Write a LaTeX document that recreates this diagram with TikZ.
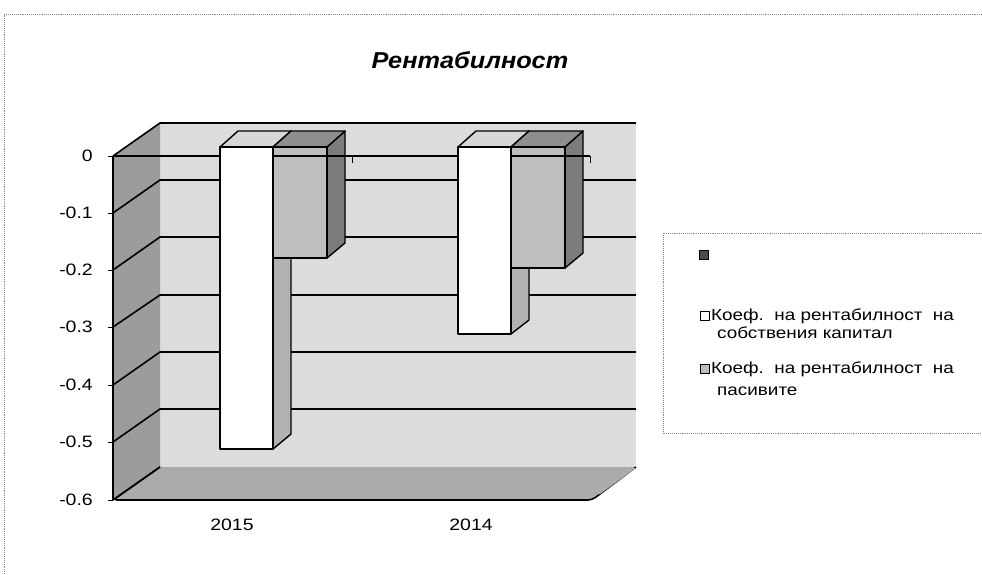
\documentclass[tikz,border=0pt]{standalone}
\usepackage{fontspec}
\setmainfont{Liberation Sans}
\definecolor{wallback}{HTML}{DCDCDC}
\definecolor{wallside}{HTML}{9C9C9C}
\definecolor{floorc}{HTML}{ABABAB}
\definecolor{wtop}{HTML}{D6D6D6}
\definecolor{wside}{HTML}{B2B2B2}
\definecolor{gfront}{HTML}{BEBEBE}
\definecolor{gtop}{HTML}{8E8E8E}
\definecolor{gside}{HTML}{7C7C7C}
\definecolor{framec}{HTML}{8A8A8A}
\tikzset{
  grid/.style={line width=1.6pt, black},
  edge/.style={draw=black, line width=1.4pt, line join=round},
  axlab/.style={font=\fontsize{16.5}{19}\selectfont, inner sep=0pt},
  leglab/.style={font=\fontsize{16}{21}\selectfont, inner sep=0pt, anchor=west, align=left},
  legsq/.style={draw=black, line width=0.9pt, minimum size=9.5pt, inner sep=0pt},
}
\newcommand{\sx}[1]{\scalebox{1.18}[1]{#1}}
\begin{document}
\begin{tikzpicture}[x=1pt,y=-1pt]
\useasboundingbox (0,0) rectangle (982,574);
% outer frame
\draw[framec, densely dotted, line width=0.9pt] (4,574) -- (4,14) -- (982,14);
% title
\node[font=\fontsize{23}{26}\selectfont\bfseries\itshape, inner sep=0pt] (title) at (470,60) {\scalebox{1.1}[1]{Рентабилност}};
% walls
\fill[wallback] (160,123) rectangle (636,467);
\fill[wallside] (113,156) -- (160,123) -- (160,467) -- (113,500) -- cycle;
\filldraw[fill=floorc, draw=black, line width=1.6pt, rounded corners=4pt]
  (160,467) -- (113,500) -- (592,500) -- (636,467);
\fill[floorc] (160,468) -- (636,468) -- (600,494) -- (130,494) -- cycle;
% gridlines
\foreach \f/\b in {156/123,213/180,270/237,327/295,385/352,442/409} {
  \draw[grid] (113,\f) -- (160,\b) -- (636,\b);
}
\draw[grid] (113,500) -- (160,467);
% value axis
\draw[black, line width=1.6pt] (113,156) -- (113,500);
\foreach \v/\y in {0/156,-0.1/213,-0.2/270,-0.3/327,-0.4/385,-0.5/442,-0.6/500} {
  \draw[black, line width=1pt] (108,\y) -- (113,\y);
}
\node[axlab, anchor=east] (l0) at (93,156) {\sx{0}};
\node[axlab, anchor=east] (l1) at (93,213) {\sx{-0.1}};
\node[axlab, anchor=east] (l2) at (93,270) {\sx{-0.2}};
\node[axlab, anchor=east] (l3) at (93,327) {\sx{-0.3}};
\node[axlab, anchor=east] (l4) at (93,385) {\sx{-0.4}};
\node[axlab, anchor=east] (l5) at (93,442) {\sx{-0.5}};
\node[axlab, anchor=east] (l6) at (93,500) {\sx{-0.6}};
% category labels
\node[axlab] (c2015) at (232,525) {\sx{2015}};
\node[axlab] (c2014) at (471,525) {\sx{2014}};
% ---- bars 2015 ----
\filldraw[edge, fill=wside] (273,147) -- (291,131) -- (291,434) -- (273,449) -- cycle;
\filldraw[edge, fill=wtop] (220,147) -- (238,131) -- (291,131) -- (273,147) -- cycle;
\filldraw[edge, fill=white] (220,147) rectangle (273,449);
\filldraw[edge, fill=gside] (327,147) -- (345,131) -- (345,243) -- (327,258) -- cycle;
\filldraw[edge, fill=gtop] (273,147) -- (291,131) -- (345,131) -- (327,147) -- cycle;
\filldraw[edge, fill=gfront] (273,147) rectangle (327,258);
% ---- bars 2014 ----
\filldraw[edge, fill=wside] (511,147) -- (529,131) -- (529,320) -- (511,334) -- cycle;
\filldraw[edge, fill=wtop] (458,147) -- (476,131) -- (529,131) -- (511,147) -- cycle;
\filldraw[edge, fill=white] (458,147) rectangle (511,334);
\filldraw[edge, fill=gside] (565,147) -- (583,131) -- (583,253) -- (565,268) -- cycle;
\filldraw[edge, fill=gtop] (511,147) -- (529,131) -- (583,131) -- (565,147) -- cycle;
\filldraw[edge, fill=gfront] (511,147) rectangle (565,268);
% category axis at 0
\draw[black, line width=1.4pt] (113,156) -- (220,156);
\draw[black, line width=1.4pt] (273,156) -- (458,156);
\draw[black, line width=1.4pt] (511,156) -- (590,156);
\draw[black, line width=1pt] (352,156) -- (352,163);
\draw[black, line width=1pt] (590,156) -- (590,163);
% legend
\draw[framec, densely dotted, line width=0.9pt] (986,233) -- (663,233) -- (663,433) -- (986,433);
\node[legsq, fill=gray!60!black] (sq1) at (704,255) {};
\node[legsq, fill=white] (sq2) at (705,316) {};
\node[legsq, fill=gfront] (sq3) at (705,369) {};
\node[leglab] (t2) at (711,316) {\sx{Коеф.\ \ на рентабилност\ \ на}};
\node[leglab] (t2b) at (717,333) {\sx{собствения капитал}};
\node[leglab] (t3) at (711,369) {\sx{Коеф.\ \ на рентабилност\ \ на}};
\node[leglab] (t3b) at (717,391) {\sx{пасивите}};
\end{tikzpicture}
\end{document}
